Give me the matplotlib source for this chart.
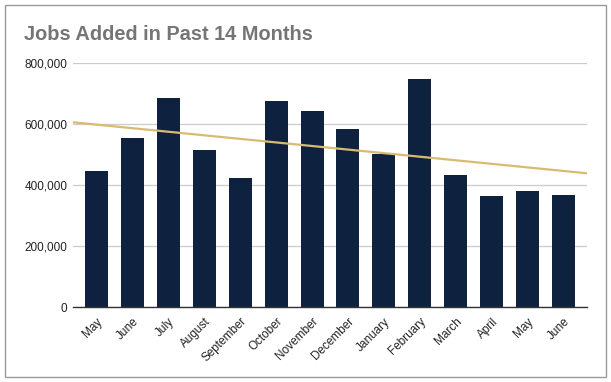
import numpy as np
import matplotlib.pyplot as plt
from matplotlib.patches import Rectangle

months = ['May', 'June', 'July', 'August', 'September', 'October', 'November',
          'December', 'January', 'February', 'March', 'April', 'May', 'June']
jobs = [445000, 553000, 684000, 515000, 423000, 674000, 642000,
        583000, 501000, 747000, 432000, 364000, 379000, 369000]
yticks = [0, 200000, 400000, 600000, 800000]

plt.rcParams['font.family'] = ['Liberation Sans', 'DejaVu Sans']

fig = plt.figure(figsize=(6.11, 3.82), dpi=100)
ax = fig.add_axes([0.1195, 0.196, 0.8412, 0.639])

x = np.arange(len(months))
ax.bar(x, jobs, width=0.64, color='#0e223f', zorder=3)

# linear trendline over the full plot width
slope, intercept = np.polyfit(x, jobs, 1)
xl = np.array([-0.65, len(months) - 0.35])
ax.plot(xl, slope * xl + intercept, color='#d8bb72', linewidth=1.6, zorder=4)

ax.set_xlim(xl[0], xl[1])
ax.set_ylim(0, 800000)
ax.set_yticks(yticks)
ax.set_yticklabels([f'{v:,}' for v in yticks], fontsize=8.5, color='#222222')
ax.set_xticks(x)
ax.set_xticklabels(months, rotation=45, ha='right', rotation_mode='anchor',
                   fontsize=8.5, color='#222222')
ax.tick_params(axis='both', length=0, pad=4)
ax.tick_params(axis='x', pad=6)

ax.grid(axis='y', color='#cccccc', linewidth=0.9, zorder=0)
for s in ['top', 'right', 'left']:
    ax.spines[s].set_visible(False)
ax.spines['bottom'].set_color('#333333')
ax.spines['bottom'].set_linewidth(1.0)
ax.spines['bottom'].set_zorder(5)

fig.text(24 / 611, 1 - 35 / 382, 'Jobs Added in Past 14 Months', fontsize=14.4,
         fontweight='bold', color='#757575', va='center', ha='left')

fig.patches.append(Rectangle((5 / 611, 5 / 382), 601 / 611, 372 / 382,
                             transform=fig.transFigure, fill=False,
                             edgecolor='#9a9a9a', linewidth=1.0))

fig.savefig('out.png', dpi=100)
